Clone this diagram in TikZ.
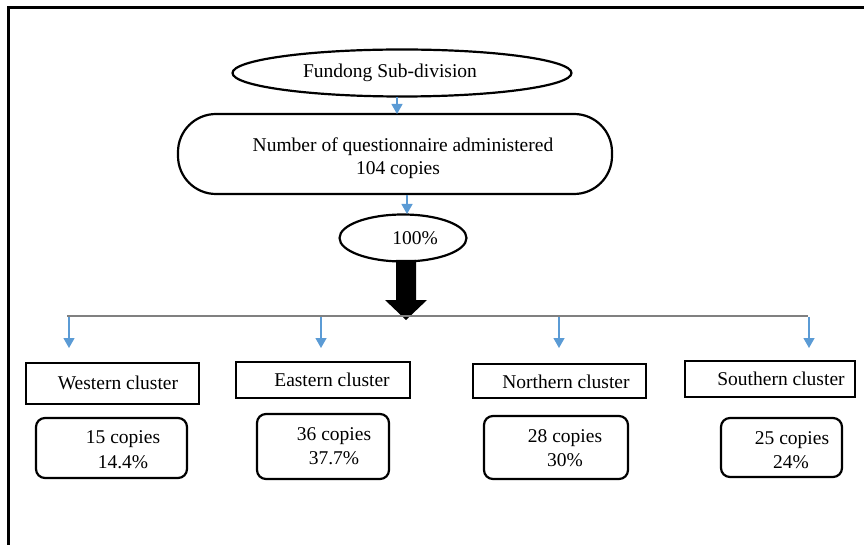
\documentclass[tikz,border=0pt]{standalone}
\usepackage{fontspec}
\setmainfont{Liberation Serif}
\usetikzlibrary{shapes.geometric,arrows.meta}
\definecolor{arrblue}{RGB}{91,155,213}
\definecolor{linegray}{RGB}{128,128,128}
\tikzset{
  every node/.style={font=\fontsize{19.5}{21}\selectfont, inner sep=0pt},
  ell/.style={draw, line width=2.2pt, ellipse},
  clusterbox/.style={draw, line width=2.2pt, rectangle},
  copybox/.style={draw, line width=2.2pt, rounded corners=9pt},
  bluearr/.style={draw=arrblue, line width=1.3pt, -{Triangle[width=11pt,length=10pt]}, fill=arrblue},
  txt/.style={align=center}
}
\begin{document}
\begin{tikzpicture}[x=1pt,y=-1pt]
\useasboundingbox (0,0) rectangle (864,545);
% frame
\draw[line width=3pt] (8,545) -- (8,8) -- (864,8);
% top ellipse
\node[ell, minimum width=339pt, minimum height=47pt] (fund) at (402,73) {};
\node[txt] (fundt) at (390,73) {Fundong Sub-division};
% stadium
\node[draw, line width=2.2pt, rounded corners=38pt, minimum width=434pt, minimum height=80pt] (num) at (395,154) {};
\node[txt] (numt1) at (403,147) {Number of questionnaire administered};
\node[txt] (numt2) at (398,170) {104 copies};
% 100%
\node[ell, minimum width=127pt, minimum height=47pt] (pct) at (403,238) {};
\node[txt] (pctt) at (415,238) {100\%};
\coordinate (a1s) at (397,97);
\coordinate (a1e) at (397,114);
\draw[bluearr] (a1s) -- (a1e);
\coordinate (a2s) at (407,195);
\coordinate (a2e) at (407,214);
\draw[bluearr] (a2s) -- (a2e);
% block arrow
\fill (396,260) -- (416,260) -- (416,300) -- (427,300) -- (406,320) -- (385,300) -- (396,300) -- cycle;
% horizontal line
\coordinate (hl) at (67,316);
\coordinate (hr) at (808,316);
\draw[linegray, line width=1.6pt] (hl) -- (hr);
% cluster boxes
\node[clusterbox, minimum width=173pt, minimum height=41pt] (west) at (112.5,383.5) {};
\node[txt] at (118,383) {Western cluster};
\node[clusterbox, minimum width=174pt, minimum height=36pt] (east) at (323,380) {};
\node[txt] at (332,380) {Eastern cluster};
\node[clusterbox, minimum width=173pt, minimum height=34pt] (north) at (559.5,381) {};
\node[txt] at (566,382) {Northern cluster};
\node[clusterbox, minimum width=170pt, minimum height=36pt] (south) at (770,379) {};
\node[txt] at (781,379) {Southern cluster};
% drop arrows
\foreach \x/\n in {69/west,321/east,559/north,809/south}{
  \coordinate (d\n s) at (\x,317);
  \coordinate (d\n e) at (\x,348);
  \draw[bluearr] (d\n s) -- (d\n e);
}
% copies boxes
\node[copybox, minimum width=151pt, minimum height=60pt] (wc) at (111.5,448) {};
\node[txt] at (123,439) {15 copies};
\node[txt] at (123,462) {14.4\%};
\node[copybox, minimum width=132pt, minimum height=65pt] (ec) at (323,446.5) {};
\node[txt] at (334,436) {36 copies};
\node[txt] at (334,458) {37.7\%};
\node[copybox, minimum width=144pt, minimum height=63pt] (nc) at (556,447.5) {};
\node[txt] at (565,438) {28 copies};
\node[txt] at (565,460) {30\%};
\node[copybox, minimum width=121pt, minimum height=59pt] (sc) at (781.5,447.5) {};
\node[txt] at (792,440) {25 copies};
\node[txt] at (791,462) {24\%};
\end{tikzpicture}
\end{document}
